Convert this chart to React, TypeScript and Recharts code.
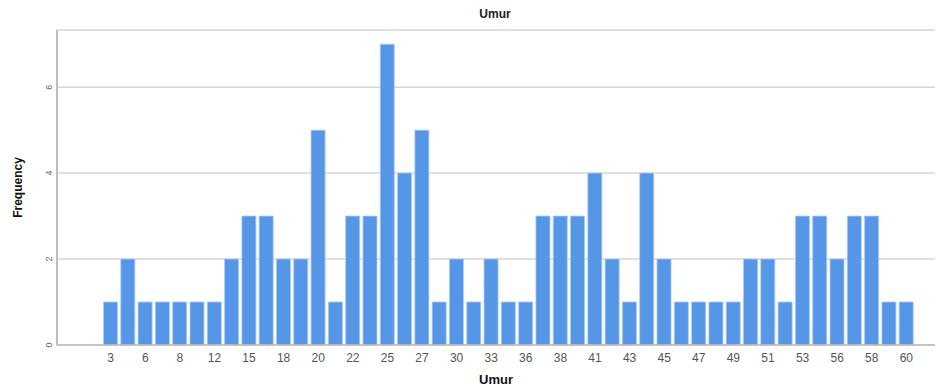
import { BarChart, Bar, XAxis, YAxis, CartesianGrid, Label } from 'recharts'

// ages (every other one is labelled on the axis)
const ages = [
  3, 4, 6, 7, 8, 10, 12, 13, 15, 16, 18, 19, 20, 21, 22, 23, 25, 26, 27, 28,
  30, 31, 33, 35, 36, 37, 38, 40, 41, 42, 43, 44, 45, 46, 47, 48, 49, 50, 51, 52,
  53, 55, 56, 57, 58, 59, 60,
]
const frequency = [
  1, 2, 1, 1, 1, 1, 1, 2, 3, 3, 2, 2, 5, 1, 3, 3, 7, 4, 5, 1,
  2, 1, 2, 1, 1, 3, 3, 3, 4, 2, 1, 4, 2, 1, 1, 1, 1, 2, 2, 1,
  3, 3, 2, 3, 3, 1, 1,
]
const yTicks = [0, 2, 4, 6]

const data = ages.map((age, i) => ({ age: String(age), count: frequency[i] }))

const font = '"Liberation Sans", Arial, sans-serif'

const YTick = (props: any) => {
  const { x, y, payload } = props
  return (
    <text x={x} y={y} transform={`rotate(-90 ${x} ${y})`} textAnchor="middle" dy={3} fontSize={9} fill="#666" fontFamily={font}>
      {payload.value}
    </text>
  )
}

export default function App() {
  return (
    <div style={{ position: 'absolute', left: 0, top: 0, width: 948, height: 389, background: '#fff' }}>
      <div style={{ position: 'absolute', top: 7, left: 0, width: 990, textAlign: 'center', fontFamily: font, fontWeight: 'bold', fontSize: 12, color: '#222' }}>
        Umur
      </div>
      <BarChart width={948} height={389} data={data} margin={{ top: 30, right: 13, bottom: 14, left: 0 }} barCategoryGap={1.5}>
        <CartesianGrid vertical={false} stroke="#d6d6d6" strokeWidth={1.5} />
        <XAxis
          dataKey="age"
          interval={1}
          tickLine={false}
          axisLine={{ stroke: '#bdbdbd', strokeWidth: 1.5 }}
          tick={{ fontSize: 12, fill: '#555', fontFamily: font }}
          height={30}
          padding={{ left: 45, right: 20 }}
        >
          <Label value="Umur" position="insideBottom" offset={-9} style={{ fontSize: 13, fontWeight: 'bold', fill: '#111', fontFamily: font }} />
        </XAxis>
        <YAxis
          domain={[0, 7.33]}
          ticks={yTicks}
          width={57}
          tickLine={false}
          axisLine={{ stroke: '#bdbdbd', strokeWidth: 2 }}
          tick={<YTick />}
        >
          <Label value="Frequency" angle={-90} position="insideLeft" offset={18} style={{ fontSize: 12, fontWeight: 'bold', fill: '#111', fontFamily: font, textAnchor: 'middle' }} />
        </YAxis>
        <Bar dataKey="count" fill="#5596e6" stroke="#a9c9f2" strokeWidth={0.8} isAnimationActive={false} />
      </BarChart>
    </div>
  )
}
